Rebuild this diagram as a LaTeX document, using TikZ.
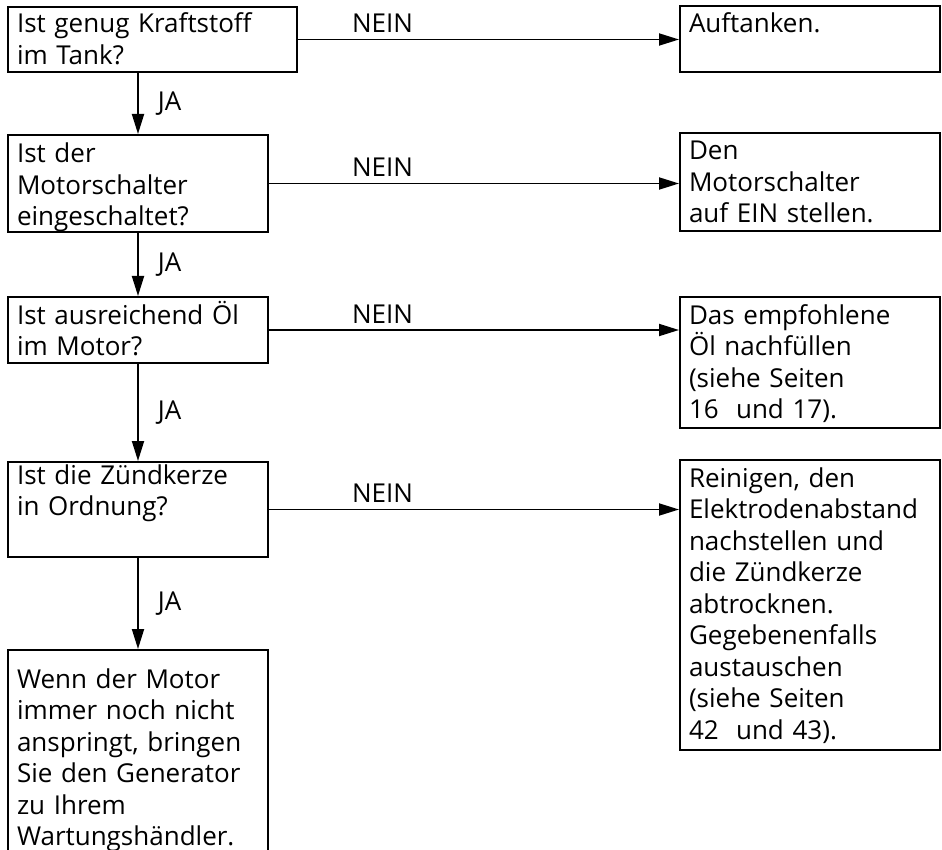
\documentclass[tikz,border=0pt]{standalone}
\usepackage{fontspec}
\setmainfont{Open Sans}
\usetikzlibrary{arrows.meta,positioning,calc}

\begin{document}
\begin{tikzpicture}[
  x=1pt, y=-1pt,
  box/.style={draw, line width=2pt, anchor=north west, align=left,
    inner xsep=9pt, inner ysep=0pt, text width=242pt, text height=27pt,
    font=\fontsize{26}{31.5}\selectfont},
  arrow/.style={-{Triangle[length=20pt,width=12pt]}, line width=1.8pt},
  nein/.style={above=6pt, inner sep=0pt, font=\fontsize{26}{30}\selectfont},
  ja/.style={midway, right=19pt, inner sep=0pt, font=\fontsize{26}{30}\selectfont},
]
\useasboundingbox (0,0) rectangle (942,850);

% links: Fragen
\node[box, text width=271pt, text height=26pt, text depth=39pt] (q1) at (7,6) {Ist genug Kraftstoff\\im Tank?};
\node[box, text height=28pt, text depth=69pt] (q2) at (7,134) {Ist der\\Motorschalter\\eingeschaltet?};
\node[box, text depth=39pt] (q3) at (7,296) {Ist ausreichend Öl\\im Motor?};
\node[box, text height=22pt, text depth=73pt] (q4) at (7,461) {Ist die Zündkerze\\in Ordnung?};
\node[box, text height=38pt, text depth=172pt] (q5) at (7,649) {Wenn der Motor\\immer noch nicht\\anspringt, bringen\\Sie den Generator\\zu Ihrem\\Wartungshändler.};

% rechts: Abhilfe
\node[box, text depth=39pt] (a1) at (679,5) {Auftanken.};
\node[box, text depth=71pt] (a2) at (679,132) {Den\\Motorschalter\\auf EIN stellen.};
\node[box, text depth=104pt] (a3) at (679,296) {Das empfohlene\\Öl nachfüllen\\(siehe Seiten\\16 \ und 17).};
\node[box, text depth=263pt] (a4) at (679,459) {Reinigen, den\\Elektrodenabstand\\nachstellen und\\die Zündkerze\\abtrocknen.\\Gegebenenfalls\\austauschen\\(siehe Seiten\\42 \ und 43).};

% JA
\draw[arrow] (q1.south -| q2.north) -- node[ja] {JA} (q2.north);
\draw[arrow] (q2.south) -- node[ja] {JA} (q3.north);
\draw[arrow] (q3.south) -- node[ja] {JA} (q4.north);
\draw[arrow] (q4.south) -- node[ja] {JA} (q5.north);

% NEIN
\draw[arrow] (q1.east) -- node[nein, pos=.222] {NEIN} (a1.west |- q1.east);
\draw[arrow] (q2.east) -- node[nein, pos=.277] {NEIN} (a2.west |- q2.east);
\draw[arrow] (q3.east) -- node[nein, pos=.277] {NEIN} (a3.west |- q3.east);
\draw[arrow] (q4.east) -- node[nein, pos=.277] {NEIN} (a4.west |- q4.east);

\end{tikzpicture}
\end{document}
